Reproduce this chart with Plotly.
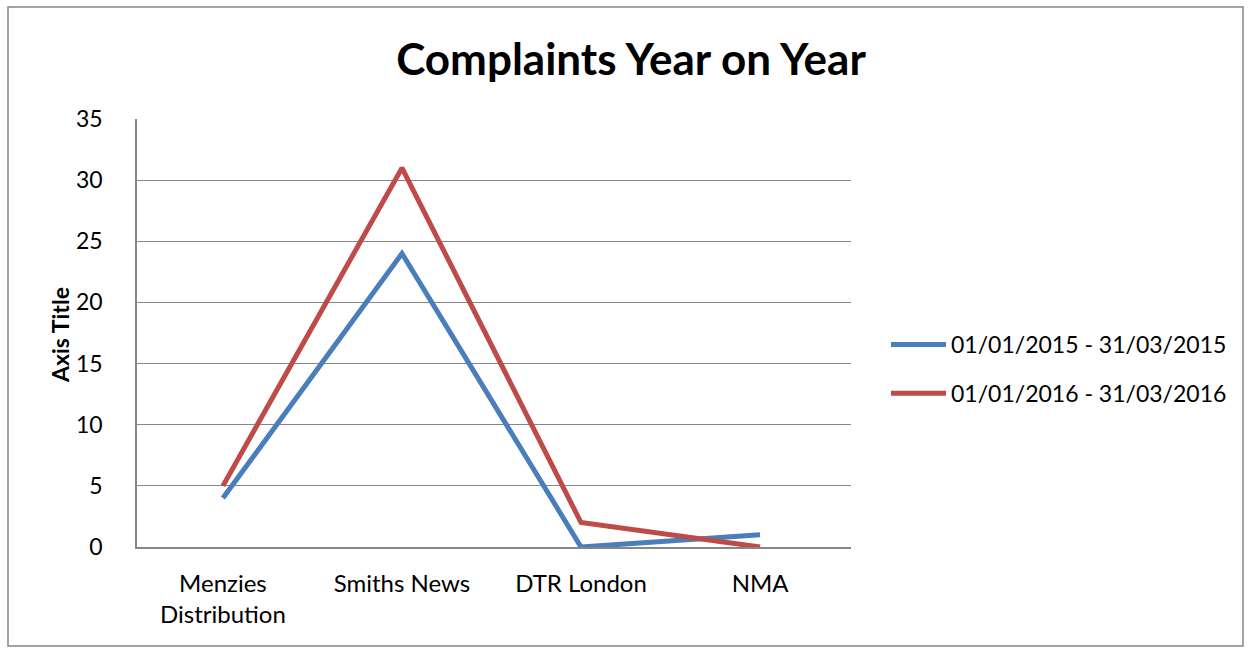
import plotly.graph_objects as go

categories = ["Menzies<br>Distribution", "Smiths News", "DTR London", "NMA"]
series_2015 = [4, 24, 0, 1]
series_2016 = [5, 31, 2, 0]
name_2015 = "01/01/2015 - 31/03/2015"
name_2016 = "01/01/2016 - 31/03/2016"
y_ticks = [0, 5, 10, 15, 20, 25, 30, 35]

FONT = "Lato, 'Open Sans', sans-serif"

fig = go.Figure()
fig.add_trace(go.Scatter(x=categories, y=series_2015, mode="lines", name=name_2015,
                         legendgroup="a",
                         line=dict(color="#4A7EBB", width=5)))
fig.add_trace(go.Scatter(x=categories, y=series_2016, mode="lines", name=name_2016,
                         legendgroup="b",
                         line=dict(color="#BE4B48", width=5)))

L, R, T, B = 137, 851, 119, 547
W, H = 1250, 648
pw, ph = R - L, B - T

def px(x):
    return (x - L) / pw

def py(y):
    return (B - y) / ph

fig.update_layout(
    width=W, height=H,
    margin=dict(l=L, r=W - R, t=T, b=H - B),
    paper_bgcolor="white", plot_bgcolor="white",
    font=dict(family=FONT, size=24, color="black"),
    title=dict(text="<b>Complaints Year on Year</b>", x=631 / W, xanchor="center",
               y=1 - 60 / H, yanchor="middle", font=dict(size=44, family=FONT)),
    xaxis=dict(range=[-0.48, 3.508], showgrid=False, showline=True, linecolor="#868686",
               linewidth=1.5, ticks="", tickfont=dict(size=24), ticklabelstandoff=14,
               fixedrange=True),
    yaxis=dict(range=[0, 35], tickvals=y_ticks, showgrid=True, gridcolor="#868686",
               gridwidth=1.3, showline=True, linecolor="#868686", linewidth=1.5,
               zeroline=False, ticks="", tickfont=dict(size=23), ticklabelstandoff=28,
               fixedrange=True),
    legend=dict(x=px(886), xanchor="left", y=py(369), yanchor="middle",
                font=dict(size=23), tracegroupgap=16, itemwidth=55,
                bgcolor="rgba(0,0,0,0)"),
    showlegend=True,
    shapes=[dict(type="rect", xref="paper", yref="paper",
                 x0=px(8), x1=px(1243), y0=py(646), y1=py(7),
                 line=dict(color="#868686", width=1.5), fillcolor="rgba(0,0,0,0)",
                 layer="below")],
    annotations=[dict(text="<b>Axis Title</b>", xref="paper", yref="paper",
                      x=px(60), y=py(335), textangle=-90, showarrow=False,
                      font=dict(size=23, family=FONT), xanchor="center", yanchor="middle")],
)

fig.write_html("out.html")
